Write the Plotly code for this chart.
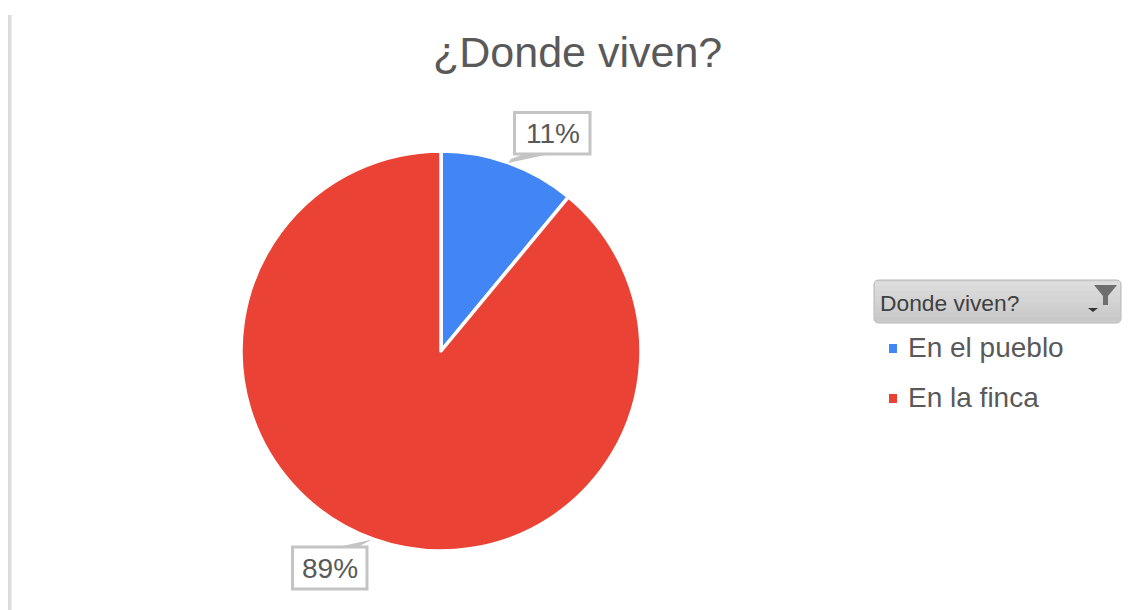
import plotly.graph_objects as go

categories = ["En el pueblo", "En la finca"]
values = [11, 89]
colors = ["#4285F4", "#EA4335"]
pct_labels = ["11%", "89%"]
title = "¿Donde viven?"
filter_label = "Donde viven?"
button_shades = ["#DDDDDD", "#DADADA", "#D7D7D7", "#D4D4D4", "#D1D1D1", "#CECECE", "#CBCBCB", "#C8C8C8"]

W, H = 1129, 610
def X(x): return x / W
def Y(y): return 1 - y / H
def rect(x0, y0, x1, y1, **k):
    return dict(type="rect", xref="paper", yref="paper", x0=X(x0), x1=X(x1), y0=Y(y0), y1=Y(y1), layer="above", **k)
def path(pts, close=True, **k):
    d = "M" + " L".join(f"{X(a):.5f},{Y(b):.5f}" for a, b in pts) + (" Z" if close else "")
    return dict(type="path", xref="paper", yref="paper", path=d, layer="above", **k)
def text(x, y, s, size, color="#595959", anchor="left"):
    return dict(xref="paper", yref="paper", x=X(x), y=Y(y), text=s, showarrow=False, xanchor=anchor, yanchor="middle",
                font=dict(family="Liberation Sans, Arial, sans-serif", size=size, color=color))
def round_box(x0, y0, x1, y1, r):
    return (f"M{X(x0+r)},{Y(y0)} L{X(x1-r)},{Y(y0)} Q{X(x1)},{Y(y0)} {X(x1)},{Y(y0+r)} "
            f"L{X(x1)},{Y(y1-r)} Q{X(x1)},{Y(y1)} {X(x1-r)},{Y(y1)} L{X(x0+r)},{Y(y1)} "
            f"Q{X(x0)},{Y(y1)} {X(x0)},{Y(y1-r)} L{X(x0)},{Y(y0+r)} Q{X(x0)},{Y(y0)} {X(x0+r)},{Y(y0)} Z")

fig = go.Figure(go.Pie(
    labels=categories, values=values, sort=False, direction="clockwise", rotation=0,
    marker=dict(colors=colors, line=dict(color="white", width=3.5)),
    textinfo="none", hoverinfo="label+percent", showlegend=False,
    domain=dict(x=[X(241), X(641)], y=[Y(551), Y(151)]),
))

GREY = "#C4C4C4"
shapes = [
    rect(8, 15, 11.5, 610, fillcolor="#DCDCDC", line_width=0),
    # callouts
    path([(508, 163), (545, 155), (527, 153), (511, 159)], fillcolor=GREY, line_width=0),
    rect(514.5, 112.5, 590, 154, fillcolor="white", line=dict(color=GREY, width=3)),
    path([(372, 539.5), (338, 547), (356, 548)], fillcolor=GREY, line_width=0),
    rect(292.5, 547, 367, 589, fillcolor="white", line=dict(color=GREY, width=3)),
    # filter button
    dict(type="path", xref="paper", yref="paper", layer="above", line=dict(color="#B5B5B5", width=1),
         fillcolor=button_shades[3], path=round_box(874, 280, 1121, 323, 5)),
]
step = 40 / len(button_shades)
for i, shade in enumerate(button_shades):
    shapes.append(rect(875, 281.5 + i * step, 1120, 281.5 + (i + 1) * step, fillcolor=shade, line_width=0))
shapes += [
    path([(1094, 285), (1117, 285), (1108, 296), (1108, 305), (1103, 305), (1103, 296)], fillcolor="#6E6E6E", line_width=0),
    path([(1088, 308), (1098, 308), (1093, 312)], fillcolor="#333333", line_width=0),
    # legend swatches
    rect(889, 344, 897, 353, fillcolor=colors[0], line_width=0),
    rect(889, 394, 897, 403, fillcolor=colors[1], line_width=0),
]

annotations = [
    text(577, 52, title, 43, anchor="center"),
    text(552.5, 134, pct_labels[0], 28, anchor="center"),
    text(330, 568.5, pct_labels[1], 28, anchor="center"),
    text(878, 303, filter_label, 22.8, color="#404040"),
    text(905.5, 347.5, categories[0], 28),
    text(905.5, 397.5, categories[1], 28),
]

fig.update_layout(
    width=W, height=H, autosize=False, margin=dict(l=0, r=0, t=0, b=0),
    paper_bgcolor="white", plot_bgcolor="white", showlegend=False,
    shapes=shapes, annotations=annotations,
)
fig.write_html("out.html", config=dict(displayModeBar=False),
               post_script="document.body.style.margin='0';document.body.style.overflow='hidden';")
